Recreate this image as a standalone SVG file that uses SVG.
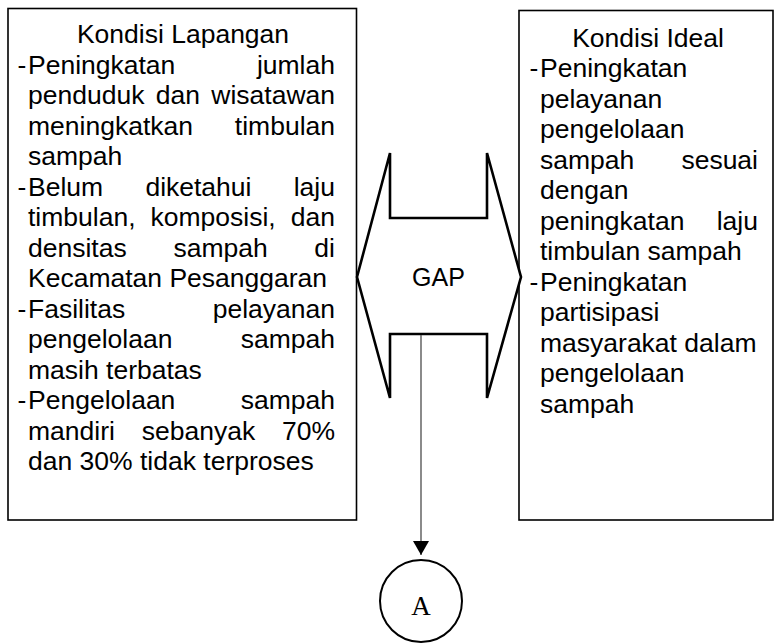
<svg xmlns="http://www.w3.org/2000/svg" width="774" height="643" viewBox="0 0 774 643">
<style>
.box{fill:#fff;stroke:#000;stroke-width:1.6}
.t{font-family:"Liberation Sans",Arial,sans-serif;font-size:26.5px;fill:#000}
.e{text-anchor:end}
.m{text-anchor:middle}
.gap{fill:#fff;stroke:#000;stroke-width:2.6;stroke-linejoin:miter}
.conn{stroke:#595959;stroke-width:1.4;fill:none}
</style>
<defs>
<marker id="ah" markerWidth="14" markerHeight="16" refX="14" refY="8" orient="auto" markerUnits="userSpaceOnUse" viewBox="0 0 14 16">
<path d="M0,0 L14,8 L0,16 Z" fill="#000"/>
</marker>
</defs>
<rect width="774" height="643" fill="#fff"/>
<g id="kondisi-lapangan">
<rect class="box" x="8" y="8.5" width="348.5" height="511.5"/>
<text class="t m" x="183" y="43">Kondisi Lapangan</text>
<text class="t" x="17.5" y="73.5">-</text>
<text class="t" x="28" y="73.5">Peningkatan</text>
<text class="t e" x="335" y="73.5">jumlah</text>
<text class="t" x="28" y="104">penduduk</text>
<text class="t" x="155.75" y="104">dan</text>
<text class="t e" x="335" y="104">wisatawan</text>
<text class="t" x="28" y="134.5">meningkatkan</text>
<text class="t e" x="335" y="134.5">timbulan</text>
<text class="t" x="28" y="165">sampah</text>
<text class="t" x="17.5" y="195.5">-</text>
<text class="t" x="28" y="195.5">Belum</text>
<text class="t" x="145.4" y="195.5">diketahui</text>
<text class="t e" x="335" y="195.5">laju</text>
<text class="t" x="28" y="226">timbulan,</text>
<text class="t" x="150.5" y="226">komposisi,</text>
<text class="t e" x="335" y="226">dan</text>
<text class="t" x="28" y="256.5">densitas</text>
<text class="t" x="173.4" y="256.5">sampah</text>
<text class="t e" x="335" y="256.5">di</text>
<text class="t" x="28" y="287">Kecamatan Pesanggaran</text>
<text class="t" x="17.5" y="317.5">-</text>
<text class="t" x="28" y="317.5">Fasilitas</text>
<text class="t e" x="335" y="317.5">pelayanan</text>
<text class="t" x="28" y="348">pengelolaan</text>
<text class="t e" x="335" y="348">sampah</text>
<text class="t" x="28" y="378.5">masih terbatas</text>
<text class="t" x="17.5" y="409">-</text>
<text class="t" x="28" y="409">Pengelolaan</text>
<text class="t e" x="335" y="409">sampah</text>
<text class="t" x="28" y="439.5">mandiri</text>
<text class="t" x="141.75" y="439.5">sebanyak</text>
<text class="t e" x="335" y="439.5">70%</text>
<text class="t" x="28" y="470">dan 30% tidak terproses</text>
</g>
<g id="kondisi-ideal">
<rect class="box" x="519" y="10.5" width="254" height="509.5"/>
<text class="t m" x="648" y="46.5">Kondisi Ideal</text>
<text class="t" x="529.5" y="77">-</text>
<text class="t" x="540" y="77">Peningkatan</text>
<text class="t" x="540" y="107.5">pelayanan</text>
<text class="t" x="540" y="138">pengelolaan</text>
<text class="t" x="540" y="168.5">sampah</text>
<text class="t e" x="758" y="168.5">sesuai</text>
<text class="t" x="540" y="199">dengan</text>
<text class="t" x="540" y="229.5">peningkatan</text>
<text class="t e" x="758" y="229.5">laju</text>
<text class="t" x="540" y="260">timbulan sampah</text>
<text class="t" x="529.5" y="290.5">-</text>
<text class="t" x="540" y="290.5">Peningkatan</text>
<text class="t" x="540" y="321">partisipasi</text>
<text class="t" x="540" y="351.5">masyarakat dalam</text>
<text class="t" x="540" y="382">pengelolaan</text>
<text class="t" x="540" y="412.5">sampah</text>
</g>
<g id="gap">
<polygon class="gap" points="390,153 390,218 487,218 487,153 521,277 487,398 487,334 390,334 390,398 357,277"/>
<text class="t m" x="438.5" y="285.5" style="font-size:25px">GAP</text>
</g>
<g id="connectors">
<line class="conn" x1="421" y1="335" x2="421" y2="555" marker-end="url(#ah)"/>
</g>
<g id="node-a">
<circle cx="421" cy="601" r="41" fill="#fff" stroke="#000" stroke-width="2"/>
<text x="421" y="615" text-anchor="middle" style="font-family:'Liberation Serif','Times New Roman',serif;font-size:27px">A</text>
</g>
</svg>
